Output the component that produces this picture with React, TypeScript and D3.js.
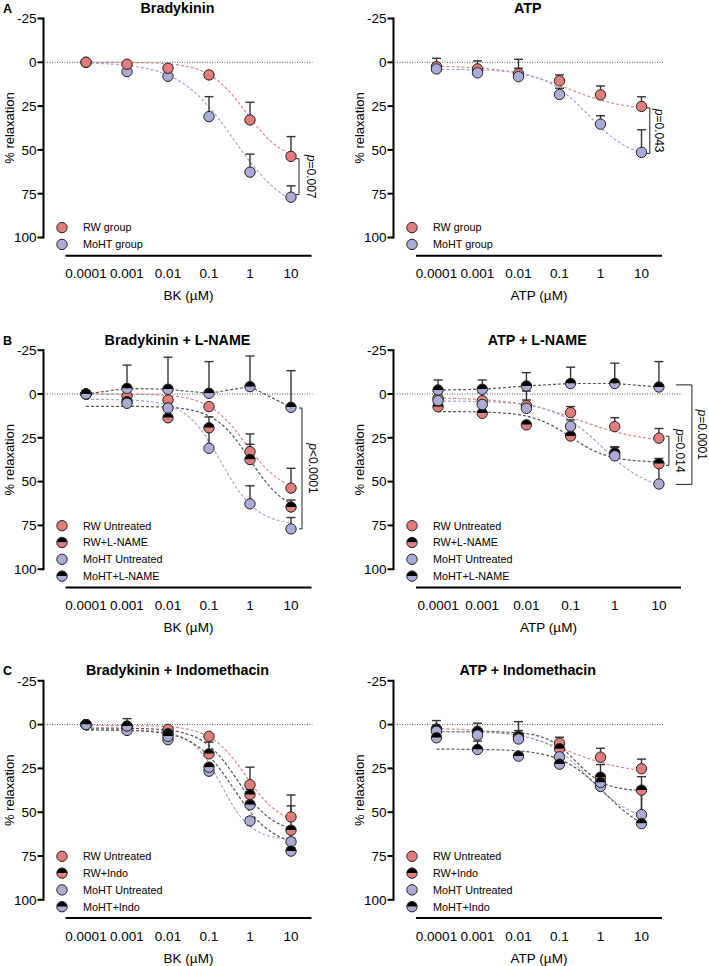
import React from "react";
import * as d3 from "d3";

const DOSES = [0.0001, 0.001, 0.01, 0.1, 1, 10];
const DOSE_LABELS = ["0.0001", "0.001", "0.01", "0.1", "1", "10"];
const Y_TICKS = [-25, 0, 25, 50, 75, 100];

// A - Bradykinin
const rwBK = [0, 1.1, 3.4, 7.2, 32.9, 53.7];
const rwBKErr = [0, 0.8, 1, 1.5, 10.1, 11.3];
const mohtBK = [0, 5.3, 8, 31, 62.7, 77];
const mohtBKErr = [0, 1, 1.5, 11.4, 10.3, 6.5];

// A - ATP
const rwATP = [2.5, 3.8, 6.6, 10.6, 18.6, 25.2];
const rwATPErr = [4.8, 4.6, 8.3, 3.4, 5.1, 5.5];
const mohtATP = [3.8, 6, 8.2, 18.4, 35.3, 51.4];
const mohtATPErr = [1.5, 1.5, 4.8, 3.6, 4.8, 12.9];

// B - L-NAME
const rwBKLname = [0, 4.4, 13.6, 19.3, 37.4, 64.5];
const rwBKLnameErr = [0.5, 1, 1, 6.2, 8.7, 4];
const mohtBKLname = [0, -3.2, -2.7, -0.4, -4.2, 7.6];
const mohtBKLnameErr = [0.5, 13.3, 18.3, 18.1, 17.5, 20.9];
const rwATPLname = [7.3, 11, 17.6, 24, 33.7, 39.8];
const rwATPLnameErr = [1, 1, 1, 1.5, 3.6, 3];
const mohtATPLname = [-2.3, -2.7, -4.6, -6, -6, -4];
const mohtATPLnameErr = [5.7, 5.3, 7.6, 9.3, 11.6, 14.5];

// C - Indomethacin
const rwBKC = [0, 1.1, 2.7, 6.7, 34.3, 52.7];
const rwBKCErr = [0, 0.8, 1, 1.5, 10, 12.5];
const rwBKIndo = [0, 1.5, 5.2, 16.7, 40, 60.3];
const rwBKIndoErr = [0, 1, 1, 6.7, 3, 13.9];
const mohtBKC = [0, 3.3, 8.6, 26.6, 55, 66.9];
const mohtBKCErr = [0, 1, 1, 1.5, 2, 2];
const mohtBKIndo = [0, 0.8, 6.7, 24.3, 45.8, 72.2];
const mohtBKIndoErr = [0, 4.2, 1, 1.5, 2, 2];
const rwATPIndo = [2.7, 4.2, 7, 13.8, 30, 37.4];
const rwATPIndoErr = [1, 1, 1, 1.5, 7.2, 7.7];
const mohtATPIndo = [7.5, 14.2, 18, 22.6, 33, 56.5];
const mohtATPIndoErr = [1.5, 4.8, 1.5, 1.5, 2, 20];

// fitted curves: [top, bottom, logEC50, hill]
const rwBKFit = [0, 57, -0.1, 0.95];
const mohtBKFit = [0, 88, -0.4, 0.65];
const rwATPFit = [2, 28, -0.8, 0.6];
const mohtATPFit = [4, 56, -0.3, 0.8];
const mohtBKFitB = [3, 75, -0.7, 1.0];
const rwBKLnameFit = [7, 68, 0, 1.0];
const rwATPLnameFit = [10, 39, -1, 1];
const rwBKCFit = [0.5, 58, -0.1, 1];
const rwBKIndoFit = [2, 62, -0.3, 1];
const mohtBKCFit = [3, 66, -0.7, 1.2];
const mohtBKIndoFit = [3, 70, -0.4, 0.9];
const rwATPIndoFit = [4, 38, -0.6, 1.2];
const mohtATPIndoFit = [14, 64, 0.1, 0.8];

const RED = "#E27D7C";
const LAV = "#AAACD6";
const LINE = { red: "#D98A8A", lav: "#A3A6CE", dark: "#555" };
const FONT = "'Liberation Sans', Arial, Helvetica, sans-serif";
const R = 5.2;

type Kind = "red" | "lav" | "redHalf" | "lavHalf";
type Series = { name: string; kind: Kind; values: number[]; errs: number[]; fit: number[] | null };

const hill = (x: number, p: number[]) => p[0] + (p[1] - p[0]) / (1 + Math.pow(10, (p[2] - x) * p[3]));

const s = (name: string, kind: Kind, values: number[], errs: number[], fit: number[] | null): Series => ({ name, kind, values, errs, fit });

const panels = [
  {
    letter: "A", title: "Bradykinin", xTitle: "BK (µM)", col: 0, row: 0, topFirst: true,
    series: [s("RW group", "red", rwBK, rwBKErr, rwBKFit), s("MoHT group", "lav", mohtBK, mohtBKErr, mohtBKFit)],
    brackets: [{ y1: 55, y2: 75.5, dx: 8, tick: 3, tdx: 20, label: "=0.007" }],
  },
  {
    letter: "", title: "ATP", xTitle: "ATP (µM)", col: 1, row: 0,
    series: [s("RW group", "red", rwATP, rwATPErr, rwATPFit), s("MoHT group", "lav", mohtATP, mohtATPErr, mohtATPFit)],
    brackets: [{ y1: 26, y2: 52, dx: 8.3, tick: 3, tdx: 18, label: "=0.043" }],
  },
  {
    letter: "B", title: "Bradykinin + L-NAME", xTitle: "BK (µM)", col: 0, row: 1,
    series: [
      s("RW Untreated", "red", rwBK, rwBKErr, rwBKFit),
      s("RW+L-NAME", "redHalf", rwBKLname, rwBKLnameErr, rwBKLnameFit),
      s("MoHT Untreated", "lav", mohtBK, mohtBKErr, mohtBKFitB),
      s("MoHT+L-NAME", "lavHalf", mohtBKLname, mohtBKLnameErr, null),
    ],
    brackets: [{ y1: 8, y2: 77, dx: 11, tick: 3, tdx: 22, label: "<0.0001" }],
  },
  {
    letter: "", title: "ATP + L-NAME", xTitle: "ATP (µM)", col: 1, row: 1, wide: true,
    series: [
      s("RW Untreated", "red", rwATP, rwATPErr, rwATPFit),
      s("RW+L-NAME", "redHalf", rwATPLname, rwATPLnameErr, rwATPLnameFit),
      s("MoHT Untreated", "lav", mohtATP, mohtATPErr, mohtATPFit),
      s("MoHT+L-NAME", "lavHalf", mohtATPLname, mohtATPLnameErr, null),
    ],
    brackets: [
      { y1: -5.2, y2: 51.6, dx: 33, tick: 16, tdx: 43, label: "=0.0001" },
      { y1: 24.1, y2: 40.7, dx: 10, tick: 3, tdx: 21.5, label: "=0.014" },
    ],
  },
  {
    letter: "C", title: "Bradykinin + Indomethacin", xTitle: "BK (µM)", col: 0, row: 2,
    series: [
      s("RW Untreated", "red", rwBKC, rwBKCErr, rwBKCFit),
      s("RW+Indo", "redHalf", rwBKIndo, rwBKIndoErr, rwBKIndoFit),
      s("MoHT Untreated", "lav", mohtBKC, mohtBKCErr, mohtBKCFit),
      s("MoHT+Indo", "lavHalf", mohtBKIndo, mohtBKIndoErr, mohtBKIndoFit),
    ],
    brackets: [],
  },
  {
    letter: "", title: "ATP + Indomethacin", xTitle: "ATP (µM)", col: 1, row: 2,
    series: [
      s("RW Untreated", "red", rwATP, rwATPErr, rwATPFit),
      s("RW+Indo", "redHalf", rwATPIndo, rwATPIndoErr, rwATPIndoFit),
      s("MoHT Untreated", "lav", mohtATP, mohtATPErr, mohtATPFit),
      s("MoHT+Indo", "lavHalf", mohtATPIndo, mohtATPIndoErr, mohtATPIndoFit),
    ],
    brackets: [],
  },
];

const ROW_TOP = [18.5, 350.2, 680.8];
const PLOT_H = 219;

function Marker({ cx, cy, kind }: { cx: number; cy: number; kind: Kind }) {
  const fill = kind.startsWith("red") ? RED : LAV;
  if (kind === "red" || kind === "lav") {
    return <circle cx={cx} cy={cy} r={R} fill={fill} stroke="#222" strokeWidth={1} />;
  }
  return (
    <g>
      <path d={`M${cx - R},${cy}A${R},${R} 0 0 1 ${cx + R},${cy}Z`} fill="#000" />
      <path d={`M${cx - R},${cy}A${R},${R} 0 0 0 ${cx + R},${cy}Z`} fill={fill} />
      <circle cx={cx} cy={cy} r={R} fill="none" stroke="#222" strokeWidth={1} />
    </g>
  );
}

function Panel({ p }: { p: any }) {
  const axisX = p.col === 0 ? 43.5 : 393.5;
  const xEnd = p.col === 0 ? 311.5 : p.wide ? 681 : 662;
  const xStart = p.col === 0 ? 65.5 : 416;
  const top = ROW_TOP[p.row];
  const x = d3.scaleLog().domain([Math.pow(10, -4.5), Math.pow(10, 1.5)]).range([xStart, xEnd]);
  const y = d3.scaleLinear().domain([-25, 100]).range([top, top + PLOT_H]);
  const zero = y(0);
  const axisY = zero + 193.5;
  const logs = d3.range(-4, 1.0001, 0.05);
  const lineColor = (k: Kind) => (k === "red" ? LINE.red : k === "lav" ? LINE.lav : LINE.dark);
  const dataLine = d3.line<number>().x((_, i) => x(DOSES[i])).y((v) => y(v));
  const legendRows = [131.7, 148.5, 165.3, 182.1];
  const rows = legendRows.slice(4 - p.series.length);
  const titleX = (axisX + xEnd) / 2;
  const x10 = x(10);
  // draw order for markers (first series on top when flagged)
  const markerOrder: Series[] = p.topFirst ? [...p.series].reverse() : p.series;

  return (
    <g fontFamily={FONT}>
      {p.letter && (
        <text x={3} y={zero - 49.5} fontSize={12.5} fontWeight="bold">{p.letter}</text>
      )}
      <text x={titleX} y={zero - 49.5} fontSize={14.3} fontWeight="bold" textAnchor="middle">{p.title}</text>

      {/* y axis */}
      <line x1={axisX} x2={axisX} y1={y(-25) - 1} y2={y(100) + 1} stroke="#000" strokeWidth={2} />
      {Y_TICKS.map((t) => (
        <g key={t}>
          <line x1={axisX - 6} x2={axisX} y1={y(t)} y2={y(t)} stroke="#000" strokeWidth={2} />
          <text x={axisX - 7} y={y(t)} dy="0.36em" fontSize={13.5} textAnchor="end">{t}</text>
        </g>
      ))}
      <text
        transform={`translate(${axisX - 34.5},${y(37.5)}) rotate(-90)`}
        fontSize={13}
        textAnchor="middle"
        dy="0.35em"
      >
        % relaxation
      </text>

      {/* x axis */}
      <line x1={xStart} x2={xEnd} y1={axisY} y2={axisY} stroke="#000" strokeWidth={2} />
      {DOSES.map((d, i) => (
        <text key={d} x={x(d)} y={zero + 216} fontSize={13.5} textAnchor="middle">{DOSE_LABELS[i]}</text>
      ))}
      <text x={(xStart + xEnd) / 2} y={zero + 238} fontSize={13.5} textAnchor="middle">{p.xTitle}</text>

      {/* zero line */}
      <line x1={axisX + 1} x2={xEnd + 1} y1={zero} y2={zero} stroke="#444" strokeWidth={0.9} strokeDasharray="1,1.5" />

      {/* curves */}
      {p.series.map((se: Series) => {
        const d = se.fit
          ? d3.line<number>().x((l) => x(Math.pow(10, l))).y((l) => y(hill(l, se.fit as number[])))(logs)
          : dataLine(se.values);
        return (
          <path key={se.name + "c"} d={d || ""} fill="none" stroke={lineColor(se.kind)} strokeWidth={1.2} strokeDasharray="3,2" />
        );
      })}

      {/* error bars */}
      {p.series.map((se: Series) =>
        se.values.map((v, i) => {
          const cx = x(DOSES[i]);
          const yt = y(v - se.errs[i]);
          if (se.errs[i] <= 0) return null;
          return (
            <g key={se.name + "e" + i} stroke="#333" strokeWidth={1.4}>
              <line x1={cx} x2={cx} y1={y(v)} y2={yt} />
              <line x1={cx - 4.5} x2={cx + 4.5} y1={yt} y2={yt} />
            </g>
          );
        })
      )}

      {/* markers */}
      {markerOrder.map((se: Series) =>
        se.values.map((v, i) => <Marker key={se.name + "m" + i} cx={x(DOSES[i])} cy={y(v)} kind={se.kind} />)
      )}

      {/* brackets */}
      {p.brackets.map((b: any) => {
        const bx = x10 + b.dx;
        const y1 = y(b.y1);
        const y2 = y(b.y2);
        return (
          <g key={b.label}>
            <path d={`M${bx - b.tick},${y1}H${bx}V${y2}H${bx - b.tick}`} fill="none" stroke="#222" strokeWidth={1} />
            <text
              transform={`translate(${x10 + b.tdx},${(y1 + y2) / 2}) rotate(90)`}
              fontSize={12}
              textAnchor="middle"
              dy="0.35em"
            >
              <tspan fontStyle="italic">p</tspan>
              {b.label}
            </text>
          </g>
        );
      })}

      {/* legend */}
      {p.series.map((se: Series, i: number) => (
        <g key={se.name + "l"}>
          <Marker cx={axisX + 18.5} cy={zero + rows[i]} kind={se.kind} />
          <text x={axisX + 39.5} y={zero + rows[i]} dy="0.36em" fontSize={10.8}>{se.name}</text>
        </g>
      ))}
    </g>
  );
}

export default function App() {
  return (
    <svg
      width={709}
      height={966}
      style={{ position: "absolute", left: 0, top: 0, background: "#fff" }}
    >
      {panels.map((p, i) => (
        <Panel key={i} p={p} />
      ))}
    </svg>
  );
}
